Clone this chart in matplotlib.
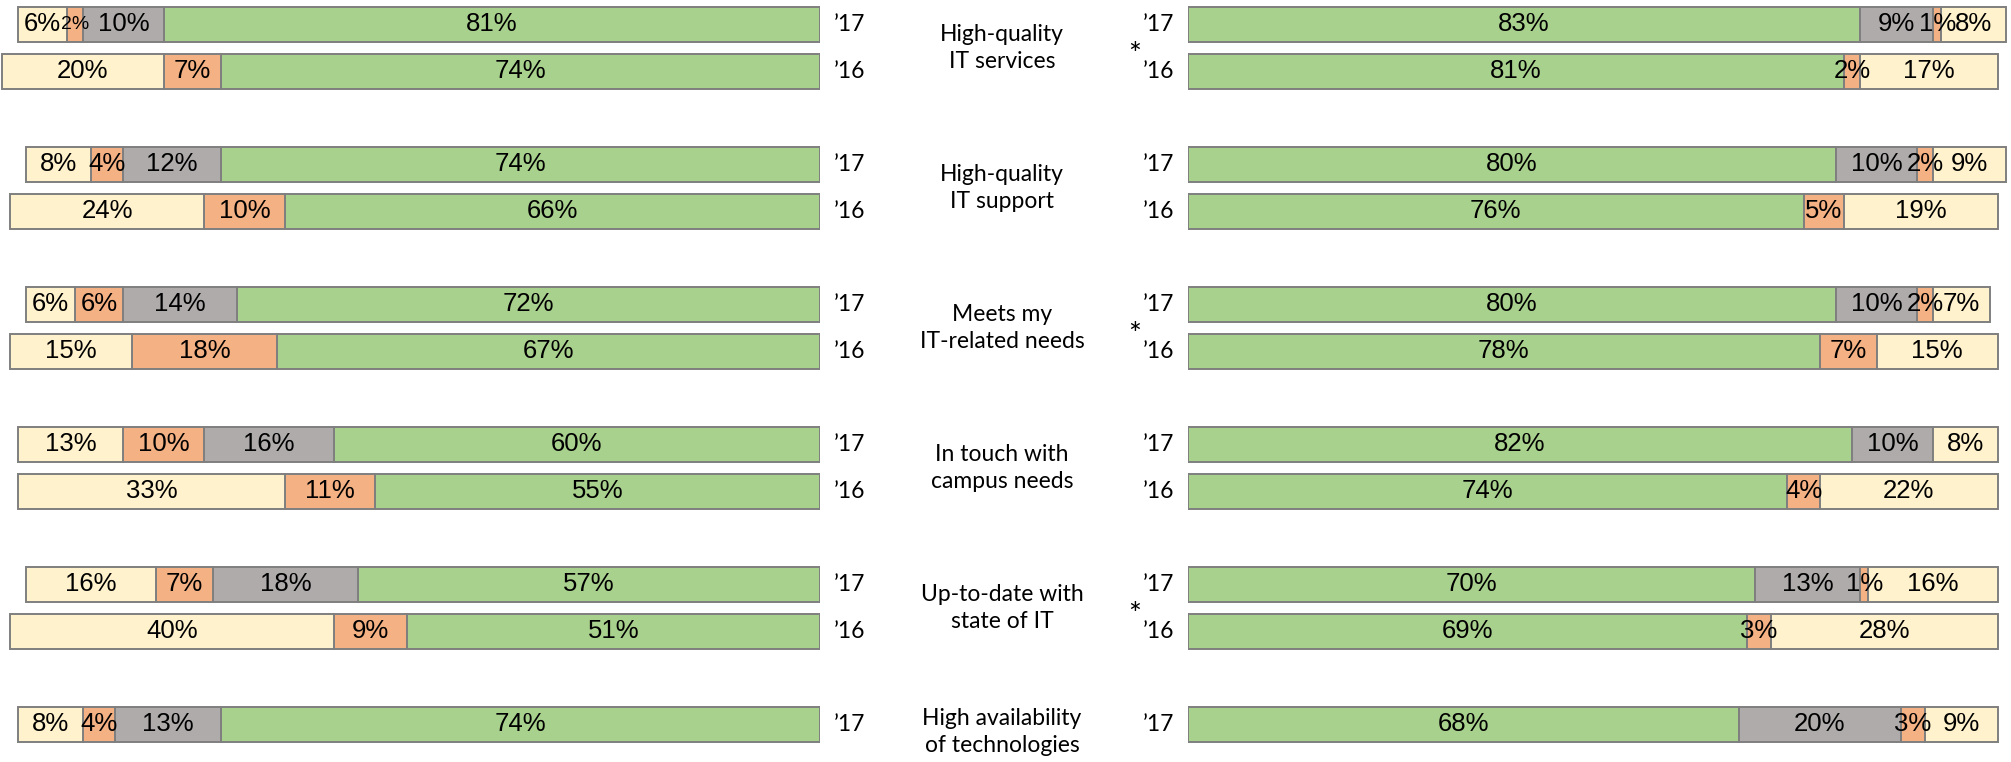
import numpy as np
import matplotlib
matplotlib.use("Agg")
import matplotlib.pyplot as plt

# survey items (top to bottom)
items = ["High-quality\nIT services", "High-quality\nIT support", "Meets my\nIT-related needs",
         "In touch with\ncampus needs", "Up-to-date with\nstate of IT", "High availability\nof technologies"]
years = ["\u201917", "\u201916"]

# left panel, per item: [2017, 2016] -> green, gray, orange, cream (None = no bar)
left_green = [[81, 74], [74, 66], [72, 67], [60, 55], [57, 51], [74, None]]
left_gray = [[10, 0], [12, 0], [14, 0], [16, 0], [18, 0], [13, None]]
left_orange = [[2, 7], [4, 10], [6, 18], [10, 11], [7, 9], [4, None]]
left_cream = [[6, 20], [8, 24], [6, 15], [13, 33], [16, 40], [8, None]]

# right panel
right_green = [[83, 81], [80, 76], [80, 78], [82, 74], [70, 69], [68, None]]
right_gray = [[9, 0], [10, 0], [10, 0], [10, 0], [13, 0], [20, None]]
right_orange = [[1, 2], [2, 5], [2, 7], [0, 4], [1, 3], [3, None]]
right_cream = [[8, 17], [9, 19], [7, 15], [8, 22], [16, 28], [9, None]]

# items with a significance marker on the right panel
starred = [0, 2, 4]

colors = ["#A9D18E", "#AFABAB", "#F4B183", "#FFF2CC"]
edge = "#7F7F7F"

W, H = 2011, 762
fig = plt.figure(figsize=(W / 100, H / 100), dpi=100)

pitch = 140.0
row_off = 47 / pitch
bar_h = 35 / pitch
ylim = ((H - 24.5) / pitch, -24.5 / pitch)
px_per = 8.1

ax_l = fig.add_axes([0, 0, 820 / W, 1])
ax_r = fig.add_axes([1188 / W, 0, (W - 1188) / W, 1])
ax_m = fig.add_axes([820 / W, 0, (1188 - 820) / W, 1])
ax_l.set_xlim(820 / px_per, 0)
ax_r.set_xlim(0, (W - 1188) / px_per)
ax_m.set_xlim(820, 1188)
for ax in (ax_l, ax_r, ax_m):
    ax.set_ylim(*ylim)
    ax.axis("off")

pct_font = dict(family="Liberation Sans", ha="center", va="center")
lab_font = dict(family="Lato", fontsize=16.5)


def draw_panel(ax, series, shrink_small):
    for i in range(len(items)):
        for j in range(2):
            if series[0][i][j] is None:
                continue
            y = i + j * row_off
            left = 0
            for k, s in enumerate(series):
                v = s[i][j]
                if v == 0:
                    continue
                ax.barh(y, v, left=left, height=bar_h, color=colors[k],
                        edgecolor=edge, linewidth=1.4)
                fs = 14 if (shrink_small and v <= 2) else 18.5
                ax.text(left + v / 2, y, f"{v}%", fontsize=fs, clip_on=False, **pct_font)
                left += v


draw_panel(ax_l, [left_green, left_gray, left_orange, left_cream], True)
draw_panel(ax_r, [right_green, right_gray, right_orange, right_cream], False)

for i, name in enumerate(items):
    rows = [j for j in range(2) if left_green[i][j] is not None]
    for j in rows:
        y = i + j * row_off
        ax_m.text(834, y, years[j], ha="left", va="center", **lab_font)
        ax_m.text(1143, y, years[j], ha="left", va="center", **lab_font)
    yc = i + np.mean(rows) * row_off
    if len(rows) == 1:
        yc += 0.055
    ax_m.text(1002, yc, name, ha="center", va="center", linespacing=1.35, **lab_font)
    if i in starred:
        ax_m.text(1135, i + row_off / 2 + 0.05, "*", ha="center", va="center",
                  family="Lato", fontsize=22)

fig.savefig("out.png", dpi=100)
